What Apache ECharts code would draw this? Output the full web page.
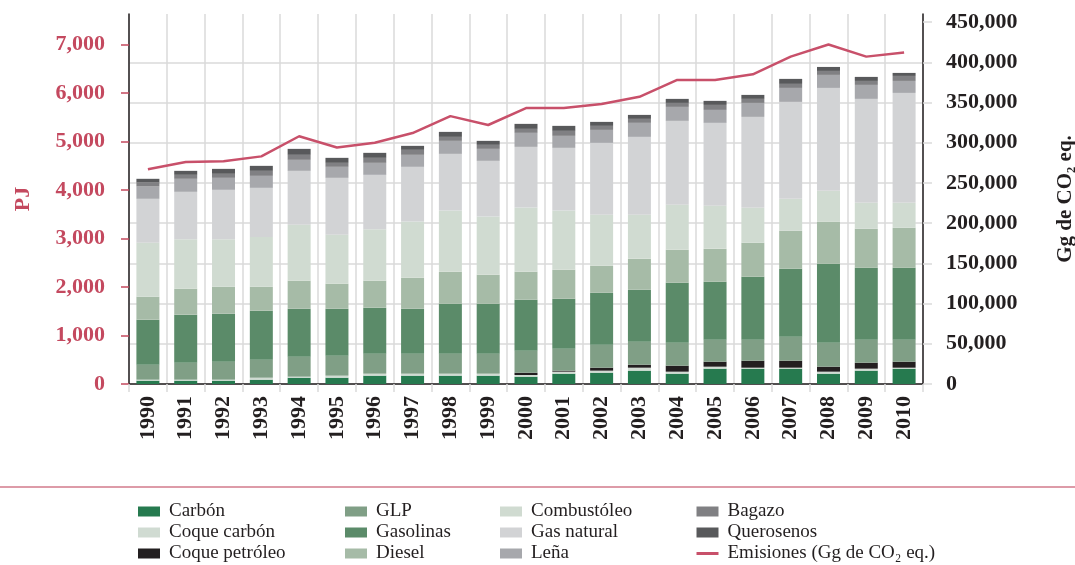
<!DOCTYPE html>
<html>
<head>
<meta charset="utf-8">
<script src="https://cdn.jsdelivr.net/npm/echarts@6/dist/echarts.min.js"></script>
<style>
html,body{margin:0;padding:0;background:#fff;}
#chart{width:1075px;height:565px;}
</style>
</head>
<body>
<div id="chart"></div>
<script>
const years = ['1990','1991','1992','1993','1994','1995','1996','1997','1998','1999','2000','2001','2002','2003','2004','2005','2006','2007','2008','2009','2010'];
const carbon        = [69,69,69,89,130,130,172,172,172,172,151,213,233,275,213,316,316,316,213,275,316];
const coqueCarbon   = [20,20,20,41,21,42,41,41,41,41,34,41,42,61,41,41,20,20,41,41,20];
const coquePetroleo = [0,0,0,0,0,0,0,0,0,0,48,21,61,62,123,103,144,144,103,123,124];
const glp           = [309,350,371,371,412,411,412,412,412,412,453,452,474,474,474,453,433,495,494,474,453];
const gasolinas     = [927,989,988,1009,988,968,947,926,1029,1029,1050,1030,1070,1070,1235,1194,1297,1400,1627,1482,1482];
const diesel        = [473,535,556,494,577,515,556,638,659,597,577,597,556,638,680,679,700,782,864,803,824];
const combustoleo   = [1112,1022,981,1023,1153,1009,1063,1160,1263,1201,1324,1222,1050,906,926,886,720,659,639,535,514];
const gasNatural    = [906,975,1016,1015,1111,1173,1119,1126,1166,1146,1249,1290,1483,1606,1730,1709,1874,1997,2120,2142,2265];
const lena          = [254,268,247,247,227,227,247,247,268,247,289,247,267,289,288,267,288,288,268,288,247];
const bagazo        = [82,82,83,103,103,82,103,103,82,83,82,103,83,82,82,103,83,83,82,82,103];
const querosenos    = [76,82,102,103,123,103,103,82,103,82,103,103,82,82,83,83,82,103,82,83,62];
const emisiones     = [267000,276000,277000,283000,308000,294000,300000,312000,333000,322000,343000,343000,348000,357000,378000,378000,385000,407000,422000,407000,412000];
const leftTicks  = [0,1000,2000,3000,4000,5000,6000,7000];
const rightTicks = [0,50000,100000,150000,200000,250000,300000,350000,400000,450000];

const FONT = '"Liberation Serif", "DejaVu Serif", serif';
const RED = '#c4495f';
const GRID = '#dadada';
const fmt = v => Number(v).toLocaleString('en-US');

const barDefs = [
  ['Carbón', carbon, '#267a4f'],
  ['Coque carbón', coqueCarbon, '#d0dbd2'],
  ['Coque petróleo', coquePetroleo, '#231f20'],
  ['GLP', glp, '#809f86'],
  ['Gasolinas', gasolinas, '#5b8b69'],
  ['Diesel', diesel, '#a6bba7'],
  ['Combustóleo', combustoleo, '#d0dbd1'],
  ['Gas natural', gasNatural, '#d2d3d5'],
  ['Leña', lena, '#a7a8ac'],
  ['Bagazo', bagazo, '#808083'],
  ['Querosenos', querosenos, '#58595b']
];
const emName = 'Emisiones (Gg de CO\u2082 eq.)';

const series = barDefs.map(([name, data, color]) => ({
  name, type: 'bar', stack: 'total', data, barWidth: 23,
  itemStyle: {color}, yAxisIndex: 0
}));
series.push({
  name: emName, type: 'line', data: emisiones, yAxisIndex: 1,
  symbol: 'none', lineStyle: {color: '#c8506a', width: 2.5}, itemStyle: {color: '#c8506a'}, z: 5
});

const legendBase = {
  orient: 'vertical', top: 502, padding: 0, itemWidth: 22, itemHeight: 10, itemGap: 2,
  textStyle: {fontFamily: FONT, fontSize: 19, color: '#231f20', padding: [0, 0, 0, 4]}
};
const legendCols = [
  [138, ['Carbón','Coque carbón','Coque petróleo']],
  [345, ['GLP','Gasolinas','Diesel']],
  [500, ['Combustóleo','Gas natural','Leña']],
  [695, ['Bagazo','Querosenos', emName]]
];

const option = {
  animation: false,
  backgroundColor: '#fff',
  grid: {left: 129, right: 152, top: 14, bottom: 181, outerBoundsMode: 'none', containLabel: false},
  legend: legendCols.map(([left, names]) => Object.assign({}, legendBase, {
    left,
    data: names.map(n => n === emName
      ? {name: n, itemStyle: {opacity: 0, color: 'rgba(0,0,0,0)', borderWidth: 0}, lineStyle: {width: 3, color: '#c8506a'}}
      : {name: n, icon: 'rect'})
  })),
  xAxis: {
    type: 'category', data: years,
    axisLine: {show: true, lineStyle: {color: '#231f20', width: 1.5}},
    axisTick: {show: true, length: 8, interval: 0, lineStyle: {color: GRID, width: 1.5}},
    splitLine: {show: true, interval: 0, lineStyle: {color: GRID, width: 1.5}},
    axisLabel: {rotate: 90, interval: 0, margin: 12, fontFamily: FONT, fontWeight: 'bold', fontSize: 22, color: '#231f20'}
  },
  yAxis: [
    {
      type: 'value', position: 'left', min: 0, max: 7624, interval: 1000,
      axisLine: {show: true, lineStyle: {color: '#231f20', width: 1.5}},
      axisTick: {show: true, length: 8, lineStyle: {color: RED, width: 1.5}, customValues: leftTicks},
      axisLabel: {customValues: leftTicks, formatter: fmt, margin: 24, fontFamily: FONT, fontWeight: 'bold', fontSize: 22, color: RED},
      splitLine: {show: false},
      name: 'PJ', nameLocation: 'middle', nameGap: 95, nameRotate: 90,
      nameTextStyle: {fontFamily: FONT, fontWeight: 'bold', fontSize: 22, color: RED}
    },
    {
      type: 'value', position: 'right', min: 0, max: 460000, interval: 50000,
      axisLine: {show: true, lineStyle: {color: '#231f20', width: 1.5}},
      axisTick: {show: true, length: 9, lineStyle: {color: GRID, width: 1.5}, customValues: rightTicks},
      axisLabel: {customValues: rightTicks, formatter: fmt, margin: 23, fontFamily: FONT, fontWeight: 'bold', fontSize: 22, color: '#231f20'},
      splitLine: {show: true, showMaxLine: false, lineStyle: {color: GRID, width: 1.5}},
      name: 'Gg de CO\u2082 eq.', nameLocation: 'middle', nameGap: 132, nameRotate: 90,
      nameTextStyle: {fontFamily: FONT, fontWeight: 'bold', fontSize: 21, color: '#231f20'}
    }
  ],
  graphic: [{
    type: 'line', shape: {x1: 0, y1: 487, x2: 1075, y2: 487},
    style: {stroke: '#d27a8b', lineWidth: 1.5}
  }],
  series
};
const chart = echarts.init(document.getElementById('chart'), null, {renderer: 'canvas'});
chart.setOption(option);
</script>
</body>
</html>
